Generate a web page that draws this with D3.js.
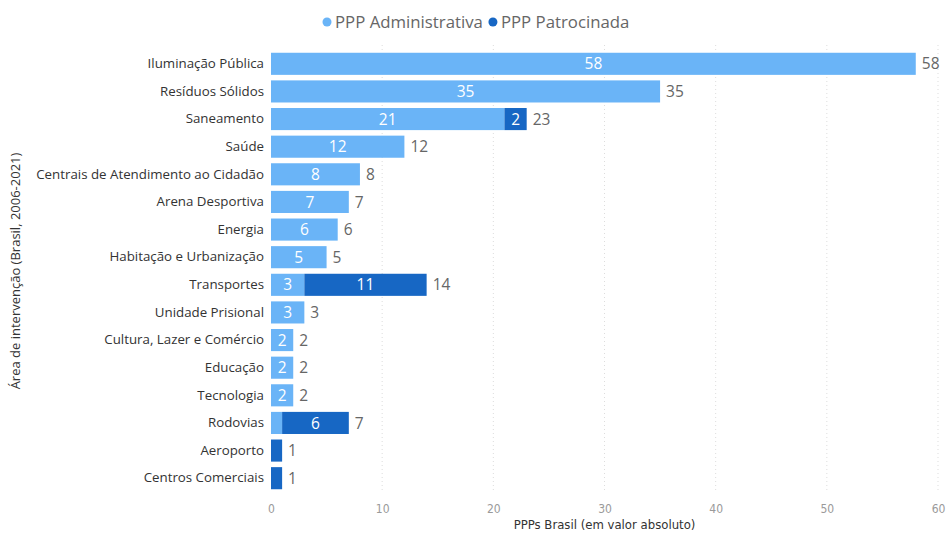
<!DOCTYPE html>
<html>
<head>
<meta charset="utf-8">
<script src="https://cdn.jsdelivr.net/npm/d3@7"></script>
<style>
  html, body { margin: 0; padding: 0; background: #fff; }
  svg { display: block; }
</style>
</head>
<body>
<svg id="chart" width="947" height="533"></svg>
<script>
// PPPs por área de intervenção (Brasil, 2006-2021)
const categories = [
  "Iluminação Pública", "Resíduos Sólidos", "Saneamento", "Saúde",
  "Centrais de Atendimento ao Cidadão", "Arena Desportiva", "Energia",
  "Habitação e Urbanização", "Transportes", "Unidade Prisional",
  "Cultura, Lazer e Comércio", "Educação", "Tecnologia", "Rodovias",
  "Aeroporto", "Centros Comerciais"
];
const administrativa = [58, 35, 21, 12, 8, 7, 6, 5, 3, 3, 2, 2, 2, 1, 0, 0];
const patrocinada    = [0, 0, 2, 0, 0, 0, 0, 0, 11, 0, 0, 0, 0, 6, 1, 1];
const seriesNames = ["PPP Administrativa", "PPP Patrocinada"];
const xTicks = [0, 10, 20, 30, 40, 50, 60];

const colors = ["#6AB4F7", "#1767C4"];
const sansFont = "'Open Sans', 'Noto Sans', sans-serif";
const narrowFont = "'Liberation Sans Narrow', 'DejaVu Sans Condensed', sans-serif";

const svg = d3.select("#chart");
const margin = { left: 271, right: 9, top: 50, bottom: 42 };
const W = 947, H = 533;

const x = d3.scaleLinear().domain([0, 60]).range([margin.left, W - margin.right]);
const y = d3.scaleBand().domain(categories).range([margin.top, H - margin.bottom + 1]).paddingInner(0.2).paddingOuter(0.1);

// gridlines
svg.append("g").selectAll("line").data(xTicks.slice(1)).join("line")
  .attr("x1", d => x(d)).attr("x2", d => x(d))
  .attr("y1", 45).attr("y2", 493)
  .attr("stroke", "#dddddd").attr("stroke-width", 1)
  .attr("stroke-dasharray", "1,3");

// x axis tick labels
const xAxis = d3.axisBottom(x).tickValues(xTicks).tickSize(0).tickPadding(0);
const gx = svg.append("g").attr("transform", `translate(0,${504})`).call(xAxis);
gx.select(".domain").remove();
gx.selectAll("text").attr("fill", "#9a9a9a").style("font-family", narrowFont).style("font-size", "12px");

svg.append("text")
  .attr("x", x(30)).attr("y", 529)
  .attr("text-anchor", "middle")
  .attr("fill", "#333").style("font-family", narrowFont).style("font-size", "13px")
  .text("PPPs Brasil (em valor absoluto)");

// y axis category labels
const yAxis = d3.axisLeft(y).tickSize(0).tickPadding(7);
const gy = svg.append("g").attr("transform", `translate(${margin.left},0)`).call(yAxis);
gy.select(".domain").remove();
gy.selectAll("text").attr("fill", "#333").style("font-family", sansFont).style("font-size", "13.3px");

svg.append("text")
  .attr("transform", `translate(20,${271}) rotate(-90)`)
  .attr("text-anchor", "middle")
  .attr("fill", "#333").style("font-family", sansFont).style("font-size", "13px")
  .text("Área de intervenção (Brasil, 2006-2021)");

// stacked bars
const rows = categories.map((c, i) => ({ cat: c, a: administrativa[i], p: patrocinada[i] }));
const stack = d3.stack().keys(["a", "p"])(rows);

stack.forEach((layer, si) => {
  const g = svg.append("g");
  g.selectAll("rect").data(layer).join("rect")
    .attr("x", d => x(d[0]))
    .attr("y", d => y(d.data.cat))
    .attr("width", d => x(d[1]) - x(d[0]))
    .attr("height", y.bandwidth())
    .attr("fill", colors[si]);
  g.selectAll("text").data(layer.filter(d => (d[1] - d[0]) >= 2)).join("text")
    .attr("x", d => (x(d[0]) + x(d[1])) / 2)
    .attr("y", d => y(d.data.cat) + y.bandwidth() / 2)
    .attr("dy", "0.36em")
    .attr("text-anchor", "middle")
    .attr("fill", "#fff")
    .style("font-family", sansFont).style("font-size", "15.5px")
    .text(d => d[1] - d[0]);
});

// totals
svg.append("g").selectAll("text").data(rows).join("text")
  .attr("x", d => x(d.a + d.p) + 6)
  .attr("y", d => y(d.cat) + y.bandwidth() / 2)
  .attr("dy", "0.36em")
  .attr("fill", "#666")
  .style("font-family", sansFont).style("font-size", "15.5px")
  .text(d => d.a + d.p);

// legend
const legend = svg.append("g");
let lx = 323;
seriesNames.forEach((name, i) => {
  legend.append("circle").attr("cx", lx + 4).attr("cy", 22).attr("r", 4.5).attr("fill", colors[i]);
  const t = legend.append("text").attr("x", lx + 12).attr("y", 22).attr("dy", "0.35em")
    .attr("fill", "#666").style("font-family", sansFont).style("font-size", "16.8px").text(name);
  lx += 12 + t.node().getComputedTextLength() + 6;
});
</script>
</body>
</html>
